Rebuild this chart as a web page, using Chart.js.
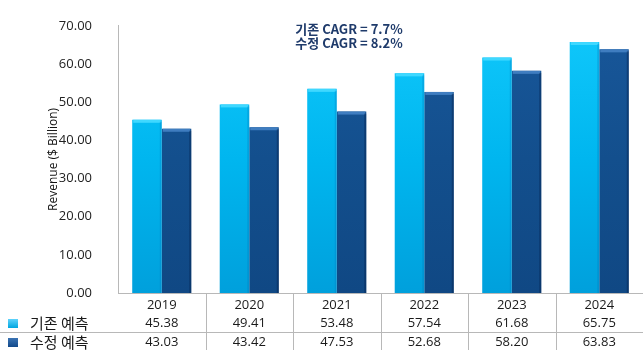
<!DOCTYPE html>
<html>
<head>
<meta charset="utf-8">
<script src="https://cdn.jsdelivr.net/npm/chart.js@4.4.1/dist/chart.umd.min.js"></script>
<style>
  html, body { margin: 0; padding: 0; background: #fff; }
  #wrap { width: 643px; height: 350px; position: relative; }
</style>
</head>
<body>
<div id="wrap"><canvas id="revChart"></canvas></div>
<script>
'use strict';

let years = ['2019', '2020', '2021', '2022', '2023', '2024'];
let baseForecast = [45.38, 49.41, 53.48, 57.54, 61.68, 65.75];
let revisedForecast = [43.03, 43.42, 47.53, 52.68, 58.20, 63.83];
let seriesNames = ['기존 예측', '수정 예측'];
let cagrNotes = ['기존 CAGR = 7.7%', '수정 CAGR = 8.2%'];
let yTicks = [0, 10, 20, 30, 40, 50, 60, 70];

let numFont = '"Open Sans", "Noto Sans CJK KR", sans-serif';
let krFont = '"Noto Sans CJK KR", "Open Sans", sans-serif';

function barGradient(ctx, area, top, mid, bottom) {
  let g = ctx.createLinearGradient(0, area.top, 0, area.bottom);
  g.addColorStop(0, top);
  g.addColorStop(0.5, mid);
  g.addColorStop(1, bottom);
  return g;
}

function lightFill(context) {
  let chart = context.chart;
  if (!chart.chartArea) return '#00b4ec';
  return barGradient(chart.ctx, chart.chartArea, '#10c8fb', '#00b6ef', '#00a0dc');
}

function darkFill(context) {
  let chart = context.chart;
  if (!chart.chartArea) return '#134f8d';
  return barGradient(chart.ctx, chart.chartArea, '#18579a', '#134f8d', '#104884');
}

// bevelled top edge and side shading on each bar
let bevelPlugin = {
  id: 'bevel',
  afterDatasetsDraw(chart) {
    let ctx = chart.ctx;
    let caps = [['#3fd8ff', 'rgba(0,120,190,0.3)'], ['#3f7dc0', 'rgba(5,35,80,0.45)']];
    chart.data.datasets.forEach((ds, di) => {
      chart.getDatasetMeta(di).data.forEach(bar => {
        let left = bar.x - bar.width / 2;
        ctx.save();
        ctx.fillStyle = caps[di][0];
        ctx.fillRect(left + 1, bar.y, bar.width - 2, 3);
        ctx.fillStyle = caps[di][1];
        ctx.fillRect(bar.x + bar.width / 2 - 2, bar.y + 2, 2, bar.base - bar.y - 2);
        ctx.restore();
      });
    });
  }
};

// data table under the plot, plus the CAGR notes
let tablePlugin = {
  id: 'dataTable',
  afterDraw(chart) {
    let ctx = chart.ctx;
    let xs = chart.scales.x;
    let area = chart.chartArea;
    let step = (area.right - area.left) / years.length;
    let rowY = [area.bottom + 12, area.bottom + 30, area.bottom + 49];

    ctx.save();
    ctx.strokeStyle = '#b8b8b8';
    ctx.lineWidth = 1;
    for (let i = 1; i <= years.length; i++) {
      let x = Math.round(area.left + i * step) + 0.5;
      ctx.beginPath();
      ctx.moveTo(x, area.bottom);
      ctx.lineTo(x, chart.height);
      ctx.stroke();
    }
    ctx.beginPath();
    ctx.moveTo(0, area.bottom + 39.5);
    ctx.lineTo(chart.width, area.bottom + 39.5);
    ctx.stroke();

    ctx.fillStyle = '#1a1a1a';
    ctx.textAlign = 'center';
    ctx.textBaseline = 'middle';
    ctx.font = '13px ' + numFont;
    years.forEach((yr, i) => {
      let x = xs.getPixelForValue(i);
      ctx.fillText(yr, x, rowY[0]);
      ctx.fillText(baseForecast[i].toFixed(2), x, rowY[1]);
      ctx.fillText(revisedForecast[i].toFixed(2), x, rowY[2]);
    });

    // legend keys
    let keyFills = [['#6ad8ff', '#00a6e0'], ['#3f78b8', '#12498a']];
    seriesNames.forEach((name, i) => {
      let y = rowY[i + 1];
      let g = ctx.createLinearGradient(0, y - 5, 0, y + 5);
      g.addColorStop(0, keyFills[i][0]);
      g.addColorStop(1, keyFills[i][1]);
      ctx.fillStyle = g;
      ctx.fillRect(8, y - 4, 10, 9);
      ctx.fillStyle = '#1a1a1a';
      ctx.textAlign = 'left';
      ctx.font = '15px ' + krFont;
      ctx.fillText(name, 30, y);
    });

    ctx.fillStyle = '#1f3b6b';
    ctx.textAlign = 'center';
    ctx.font = 'bold 13px ' + krFont;
    cagrNotes.forEach((t, i) => {
      ctx.fillText(t, 349, 29 + i * 14);
    });
    ctx.restore();
  }
};

new Chart(document.getElementById('revChart'), {
  type: 'bar',
  data: {
    labels: years,
    datasets: [
      { label: seriesNames[0], data: baseForecast, backgroundColor: lightFill,
        categoryPercentage: 0.675, barPercentage: 1.0 },
      { label: seriesNames[1], data: revisedForecast, backgroundColor: darkFill,
        categoryPercentage: 0.675, barPercentage: 1.0 }
    ]
  },
  options: {
    responsive: true,
    maintainAspectRatio: false,
    animation: false,
    layout: { padding: { top: 20, bottom: 57, right: 0, left: 0 } },
    plugins: {
      legend: { display: false },
      tooltip: { enabled: false }
    },
    scales: {
      x: {
        grid: { display: false },
        ticks: { display: false },
        border: { color: '#b8b8b8' },
        afterFit(scale) { scale.height = 0; }
      },
      y: {
        min: 0,
        max: 70,
        afterBuildTicks(scale) { scale.ticks = yTicks.map(v => ({ value: v })); },
        grid: { display: false },
        border: { color: '#b8b8b8' },
        ticks: {
          padding: 18,
          color: '#222',
          font: { family: numFont, size: 13 },
          callback: v => v.toFixed(2)
        },
        title: {
          display: true,
          text: 'Revenue ($ Billion)',
          color: '#111',
          font: { family: numFont, size: 12 },
          padding: { top: 46, bottom: 0 }
        },
        afterFit(scale) { scale.width = 118; }
      }
    }
  },
  plugins: [bevelPlugin, tablePlugin]
});
</script>
</body>
</html>
